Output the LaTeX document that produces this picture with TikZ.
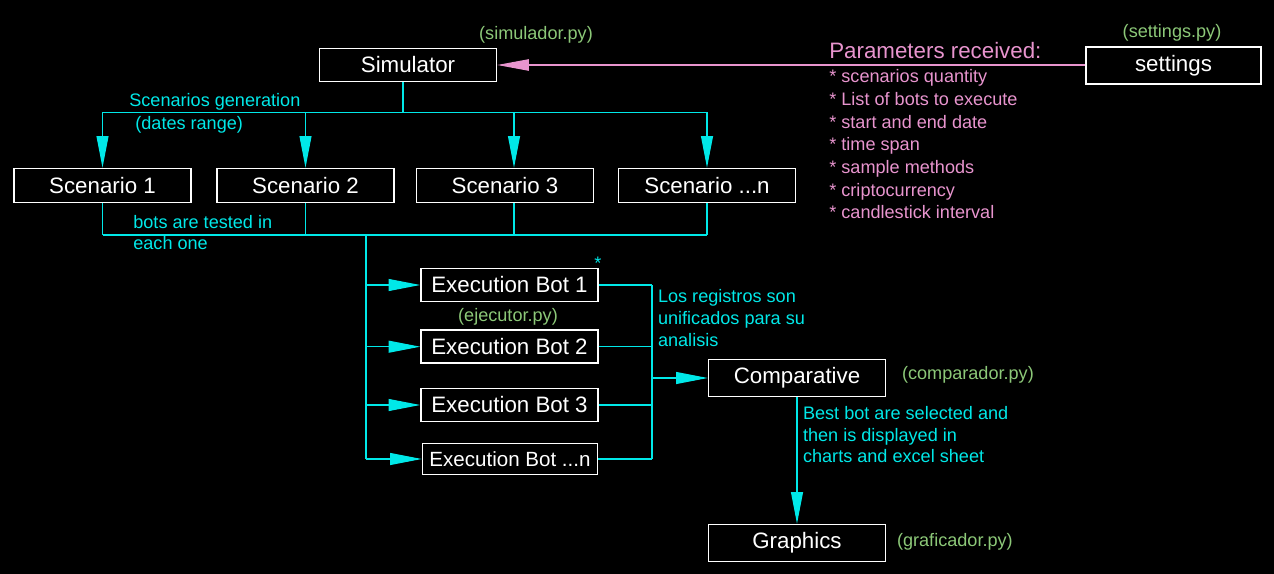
\documentclass[tikz,border=0pt]{standalone}
\usepackage{fontspec}
\setmainfont{Liberation Sans}
\usetikzlibrary{arrows.meta,calc}

\definecolor{flowcyan}{RGB}{0,232,232}
\definecolor{parampink}{RGB}{232,148,206}
\definecolor{filegreen}{RGB}{140,200,120}
\newcommand{\bigtxt}{\fontsize{12.7}{15}\selectfont}
\newcommand{\smalltxt}{\fontsize{10.3}{12.5}\selectfont}

\begin{document}
\begin{tikzpicture}[x=0.02cm,y=-0.02cm,
  box/.style={draw=white,line width=0.9pt,text=white,font=\bigtxt,minimum width=3.54cm,minimum height=0.66cm,inner sep=0pt},
  wire/.style={flowcyan,line width=0.6pt},
  arr/.style={wire,-{Triangle[length=18pt,width=6.8pt]}},
  note/.style={flowcyan,font=\smalltxt,anchor=base west,inner sep=0pt},
  file/.style={filegreen,font=\smalltxt,anchor=base,inner sep=0pt},
  param/.style={parampink,font=\smalltxt,anchor=base west,inner sep=0pt}]
  \fill[black] (0,0) rectangle (1274,574);

  % boxes
  \node[box] (sim) at (408,65) {Simulator};
  \node[box,minimum width=3.5cm,minimum height=0.74cm] (settings) at (1173.5,65.5) {settings};
  \foreach \n/\x in {1/102.5,2/305.5,3/505}
    \node[box,minimum height=0.68cm] (scen\n) at (\x,185.5) {Scenario \n};
  \node[box,minimum height=0.68cm] (scenn) at (707,185.5) {Scenario ...n};
  \foreach \n/\y in {1/285,2/346.7,3/405}
    \node[box] (bot\n) at (509.5,\y) {Execution Bot \n};
  \node[box,minimum width=3.5cm,minimum height=0.62cm,font=\fontsize{11.7}{14}\selectfont] (botn) at (510,459) {Execution Bot ...n};
  \node[box,minimum height=0.74cm] (comp) at (797,378) {Comparative};
  \node[box,minimum height=0.74cm] (graph) at (797,543) {Graphics};

  % settings -> simulator
  \draw[parampink,line width=0.6pt,-{Triangle[length=18pt,width=6.5pt]}] (settings.west |- sim.east) -- (sim.east);

  % scenario generation
  \draw[wire] (sim.south -| 403,0) -- ++(0,30) coordinate (bus);
  \draw[wire] (bus -| scen1) -- (bus -| scenn);
  \foreach \n in {1,2,n}
    \draw[arr] (bus -| scen\n) -- (scen\n.north);
  \draw[arr] (bus -| 514,0) -- (scen3.north -| 514,0);

  % scenarios -> bots
  \coordinate (join) at (366,235);
  \foreach \n in {1,2,n}
    \draw[wire] (scen\n.south) -- (scen\n.south |- join);
  \draw[wire] (scen3.south -| 514,0) -- (join -| 514,0);
  \draw[wire] (join -| scen1) -- (join -| scenn);
  \draw[wire] (join) -- (join |- botn.west);
  \foreach \n in {1,2,3,n}
    \draw[arr] (join |- bot\n.west) -- (bot\n.west);

  % bots -> comparative -> graphics
  \coordinate (merge) at (652,378);
  \foreach \n in {1,2,3,n}
    \draw[wire] (bot\n.east) -- (bot\n.east -| merge);
  \draw[wire] (merge |- bot1.east) -- (merge |- botn.east);
  \draw[arr] (merge |- comp.west) -- (comp.west);
  \draw[arr] (comp.south) -- (graph.north);

  % file names
  \node[file] (simfile) at (536,40) {(simulador.py)};
  \node[file] (setfile) at (1172,37.3) {(settings.py)};
  \node[file] (ejefile) at (508,321.7) {(ejecutor.py)};
  \node[file,anchor=base west] (compfile) at (901.7,379.3) {(comparador.py)};
  \node[file,anchor=base west] (grafile) at (896.7,546.7) {(graficador.py)};

  % parameters
  \node[param,font=\bigtxt] (paramtitle) at (829,59) {Parameters received:};
  \foreach \t [count=\i] in {scenarios quantity,List of bots to execute,start and end date,time span,sample methods,criptocurrency,candlestick interval}
    \node[param] (param\i) at (829,60+22.7*\i) {* \t};

  % notes
  \node[note] (gen1) at (129,107) {Scenarios generation};
  \node[note] (gen2) at (135,130) {(dates range)};
  \node[note] (test1) at (133,228.3) {bots are tested in};
  \node[note] (test2) at (133,249.3) {each one};
  \node[note,anchor=base] (star) at (598,269) {*};
  \foreach \t [count=\i] in {Los registros son,unificados para su,analisis}
    \node[note] (reg\i) at (657.7,281+21.7*\i) {\t};
  \foreach \t [count=\i] in {Best bot are selected and,then is displayed in,charts and excel sheet}
    \node[note] (best\i) at (802.7,397.6+21.7*\i) {\t};
\end{tikzpicture}
\end{document}
